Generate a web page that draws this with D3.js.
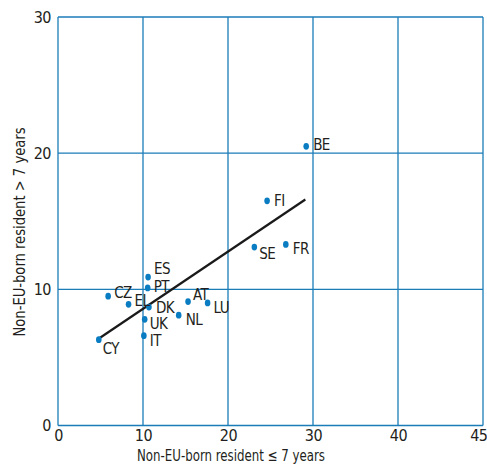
<!DOCTYPE html>
<html><head><meta charset="utf-8">
<script src="https://cdn.jsdelivr.net/npm/d3@7"></script>
<style>
body{margin:0;background:#fff;}
text{font-family:"DejaVu Sans Condensed","Liberation Sans Narrow",sans-serif;fill:#231f20;}
</style></head><body>
<svg id="c" width="487" height="466"></svg>
<script>
const countries = ["BE","FI","SE","FR","ES","PT","CZ","EL","DK","AT","LU","NL","UK","IT","CY"];
const shortStay = [29.2,24.6,23.1,26.8,10.6,10.55,5.9,8.3,10.7,15.3,17.6,14.2,10.2,10.1,4.8];
const longStay  = [20.5,16.5,13.1,13.3,10.9,10.1,9.5,8.9,8.7,9.1,9.0,8.1,7.8,6.6,6.3];
const trendX = [4.6, 29.1];
const trendY = [6.3, 16.6];
const xTicks = [0,10,20,30,40,50];
const xTickLabels = ["0","10","20","30","40","45"];
const yTicks = [0,10,20,30];
const xTitle = "Non-EU-born resident \u2264 7 years";
const yTitle = "Non-EU-born resident > 7 years";
const labelOffsets = {BE:[7,4],FI:[7,5],SE:[5,12],FR:[7,10],ES:[6,-3],PT:[6,4],CZ:[6,2],EL:[6,2],DK:[7,6],AT:[5,-2],LU:[6,10],NL:[7,10],UK:[5,10],IT:[6,10],CY:[4,14]};

const svg = d3.select("#c");
const x = d3.scaleLinear().domain([0,50]).range([58,483]);
const y = d3.scaleLinear().domain([0,30]).range([425.5,17]);
const blue = "#1b7db8";

const g = svg.append("g");
g.selectAll("line.vx").data(xTicks).join("line")
  .attr("x1",d=>x(d)).attr("x2",d=>x(d)).attr("y1",y(0)).attr("y2",y(30))
  .attr("stroke",blue).attr("stroke-width",1.3);
g.selectAll("line.hy").data(yTicks).join("line")
  .attr("y1",d=>y(d)).attr("y2",d=>y(d)).attr("x1",x(0)).attr("x2",x(50))
  .attr("stroke",blue).attr("stroke-width",1.3);

const xAxis = d3.axisBottom(x).tickValues(xTicks).tickSize(0).tickPadding(4)
  .tickFormat((d,i)=>xTickLabels[i]);
const gx = svg.append("g").attr("transform",`translate(0,${y(0)})`).call(xAxis);
gx.select(".domain").remove();
gx.selectAll("text").style("font-size","16px").style("letter-spacing","-0.5px").attr("fill","#231f20")
  .attr("text-anchor",(d,i)=>i===xTicks.length-1?"end":"middle")
  .attr("dx",(d,i)=>i===xTicks.length-1?"4":"0");

const yAxis = d3.axisLeft(y).tickValues(yTicks).tickSize(0).tickPadding(7);
const gy = svg.append("g").attr("transform",`translate(${x(0)},0)`).call(yAxis);
gy.select(".domain").remove();
gy.selectAll("text").style("font-size","16px").style("letter-spacing","-0.5px").attr("fill","#231f20");

svg.append("text").attr("x",231).attr("y",461).attr("text-anchor","middle")
  .attr("textLength",188).attr("lengthAdjust","spacingAndGlyphs")
  .style("font-size","16px").text(xTitle);
svg.append("text").attr("transform",`translate(25,232) rotate(-90)`)
  .attr("text-anchor","middle").attr("textLength",209).attr("lengthAdjust","spacingAndGlyphs")
  .style("font-size","16px").text(yTitle);

svg.append("line")
  .attr("x1",x(trendX[0])).attr("y1",y(trendY[0]))
  .attr("x2",x(trendX[1])).attr("y2",y(trendY[1]))
  .attr("stroke","#1a1a1a").attr("stroke-width",2.2);

const pts = countries.map((c,i)=>({c,x:shortStay[i],y:longStay[i]}));
svg.selectAll("ellipse.pt").data(pts).join("ellipse")
  .attr("cx",d=>x(d.x)).attr("cy",d=>y(d.y)).attr("rx",2.8).attr("ry",3.4)
  .attr("fill","#0a7dc2");
svg.selectAll("text.lbl").data(pts).join("text")
  .attr("x",d=>x(d.x)+labelOffsets[d.c][0]).attr("y",d=>y(d.y)+labelOffsets[d.c][1])
  .style("font-size","15px").style("letter-spacing","-0.6px").text(d=>d.c);
</script></body></html>
